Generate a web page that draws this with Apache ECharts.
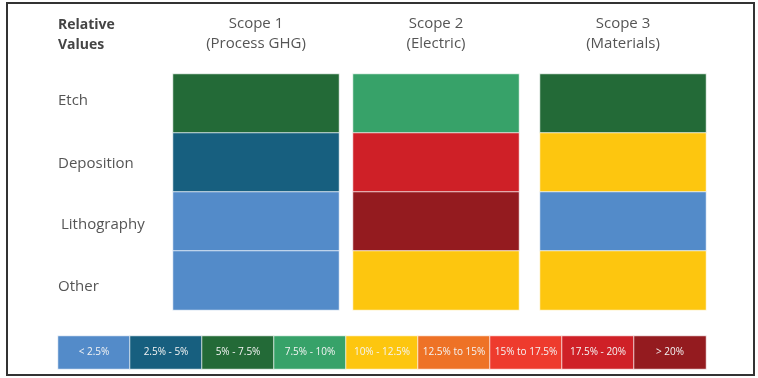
<!DOCTYPE html>
<html><head><meta charset="utf-8">
<script src="https://cdn.jsdelivr.net/npm/echarts@6/dist/echarts.min.js"></script>
<style>html,body{margin:0;padding:0;background:#fff}#c{width:758px;height:378px}</style>
</head><body><div id="c"></div>
<script>
const processes = ['Etch', 'Deposition', 'Lithography', 'Other'];
const scopes = ['Scope 1\n(Process GHG)', 'Scope 2\n(Electric)', 'Scope 3\n(Materials)'];
const bins = ['< 2.5%', '2.5% - 5%', '5% - 7.5%', '7.5% - 10%', '10% - 12.5%', '12.5% to 15%', '15% to 17.5%', '17.5% - 20%', '> 20%'];
const binColors = ['#538bc9', '#175f7f', '#236a37', '#37a269', '#fdc60f', '#ee7226', '#ee3b2d', '#cf2027', '#941b1f'];
// bin index per process (Etch, Deposition, Lithography, Other)
const scope1 = [2, 1, 0, 0];
const scope2 = [3, 7, 8, 4];
const scope3 = [2, 4, 0, 4];
const scopeValues = [scope1, scope2, scope3];

const font = "'Open Sans', sans-serif";
const colLeft = [173, 353, 540];
const colW = 166;
const grids = colLeft.map(l => ({ left: l, width: colW, top: 74, height: 236 }));
grids.push({ left: 58, width: 648, top: 336, height: 33 });

const rowRich = {
  r0: { padding: [0, 0, 6, 0] },
  r1: { padding: [2, 0, 0, 0] },
  r2: { padding: [6, 0, 0, 3] },
  r3: { padding: [13, 0, 0, 0] }
};
Object.values(rowRich).forEach(r => { r.color = '#555'; r.fontSize = 15; r.fontFamily = font; });

const xAxes = [], yAxes = [], series = [];
scopes.forEach((s, i) => {
  xAxes.push({ type: 'category', gridIndex: i, data: [s], position: 'top',
    axisLine: { show: false }, axisTick: { show: false },
    axisLabel: { color: '#555', fontSize: 15, fontFamily: font, lineHeight: 20, margin: 20 } });
  yAxes.push({ type: 'category', gridIndex: i, data: processes, inverse: true,
    axisLine: { show: false }, axisTick: { show: false },
    axisLabel: { show: i === 0, align: 'left', margin: 115, color: '#555', fontSize: 15, fontFamily: font,
      formatter: (v, idx) => '{r' + idx + '|' + v + '}', rich: rowRich } });
  series.push({ type: 'heatmap', xAxisIndex: i, yAxisIndex: i,
    data: scopeValues[i].map((v, r) => [0, r, v]),
    itemStyle: { borderColor: 'rgba(255,255,255,0.75)', borderWidth: 1 },
    emphasis: { disabled: true } });
});
xAxes.push({ type: 'category', gridIndex: 3, data: bins, show: false });
yAxes.push({ type: 'category', gridIndex: 3, data: [''], show: false });
series.push({ type: 'heatmap', xAxisIndex: 3, yAxisIndex: 3,
  data: bins.map((b, i) => [i, 0, i]),
  label: { show: true, formatter: p => bins[p.value[0]], color: '#f4f4f4', fontSize: 10, fontFamily: font },
  itemStyle: { borderColor: 'rgba(255,255,255,0.75)', borderWidth: 1 },
  emphasis: { disabled: true } });

const chart = echarts.init(document.getElementById('c'));
chart.setOption({
  animation: false,
  backgroundColor: '#fff',
  title: { text: 'Relative\nValues', left: 53, top: 10,
    textStyle: { fontSize: 14, fontWeight: 'bold', color: '#444', fontFamily: font, lineHeight: 20 } },
  grid: grids,
  xAxis: xAxes,
  yAxis: yAxes,
  visualMap: { show: false, type: 'piecewise', dimension: 2, seriesIndex: [0, 1, 2, 3],
    pieces: binColors.map((c, i) => ({ value: i, color: c })) },
  series: series,
  graphic: [{ type: 'rect', shape: { x: 7, y: 3, width: 747, height: 372 },
    style: { fill: 'none', stroke: '#333', lineWidth: 2 }, silent: true }]
});
</script></body></html>
